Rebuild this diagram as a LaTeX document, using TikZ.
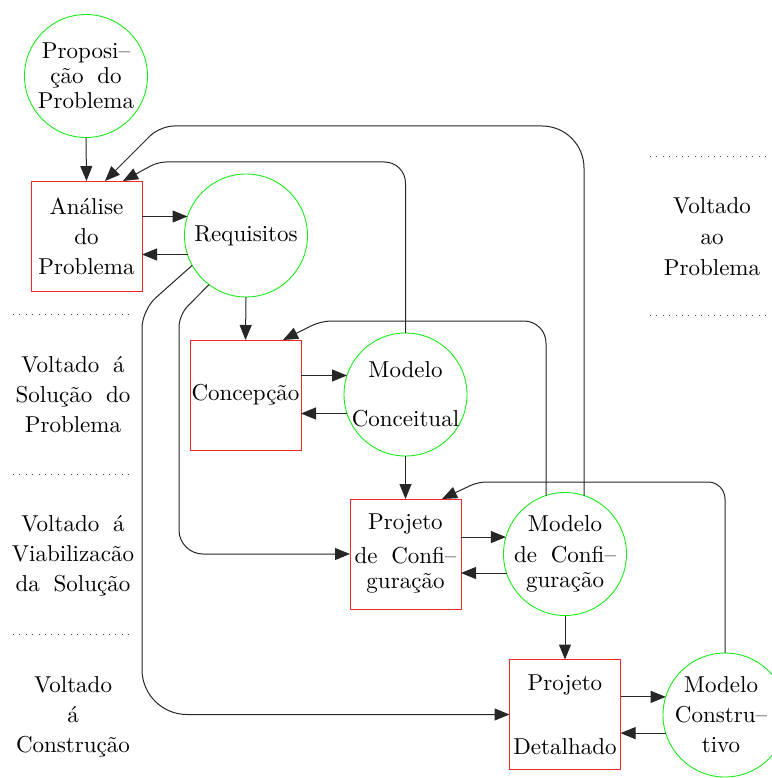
\documentclass[tikz,border=0pt]{standalone}
\usepackage{fontspec}
\setmainfont{lmroman10-regular.otf}
\usetikzlibrary{arrows.meta,calc}
\definecolor{boxred}{RGB}{245,40,40}
\definecolor{ringgreen}{RGB}{25,235,25}
\newcommand{\wgap}{\hspace{0.6em}}
\begin{document}
\begin{tikzpicture}[x=1pt,y=-1pt,
  every node/.style={font=\fontsize{23}{30}\selectfont},
  ring/.style={circle, draw=ringgreen, line width=0.9pt, minimum size=123pt,
    inner sep=0pt, outer sep=0pt},
  stepbox/.style={rectangle, draw=boxred, line width=0.9pt, minimum width=111pt,
    minimum height=110pt, inner sep=0pt, outer sep=0pt, align=center},
  txt/.style={align=center, inner sep=0pt},
  flow/.style={draw=black!85, line width=1pt, -{Triangle[length=15pt,width=12pt]}},
  sep/.style={draw=black!75, line width=0.8pt, dash pattern=on 0.8pt off 5.6pt},
]
\useasboundingbox (0,0) rectangle (771,778);

% process steps (boxes) and models (rings)
\node[ring, label={[txt, font=\fontsize{23}{25}\selectfont]center:{Proposi--\\ção\wgap do\\Problema}}] (prop) at (86,76) {};
\node[stepbox] (ana) at (86.5,236) {Análise\\do\\Problema};
\node[ring, label={[txt]center:Requisitos}] (req) at (246,235.5) {};
\node[stepbox] (conc) at (245.5,395) {Concepção};
\node[ring, label={[txt]center:{Modelo\\[19pt]Conceitual}}] (mc) at (405.5,394.5) {};
\node[stepbox] (pc) at (405.5,554) {Projeto\\[4pt]de\wgap Confi--\\[-5pt]guração};
\node[ring, label={[txt]center:{Modelo\\[1pt]de\wgap Confi--\\[-5pt]guração}}] (mconf) at (565,554) {};
\node[stepbox] (pd) at (565,714.5) {Projeto\\[34pt]Detalhado};
\node[ring, minimum size=124pt, label={[txt, xshift=-4pt]center:{Modelo\\Constru--\\tivo}}] (mcons) at (725,715) {};

% phase labels
\node[txt, font=\fontsize{23}{31}\selectfont] (sideA) at (712,237) {Voltado\\ao\\Problema};
\node[txt] (sideB) at (73,395) {Voltado\wgap á\\Solução\wgap do\\Problema};
\node[txt] (sideC) at (73,556) {Voltado\wgap á\\Viabilizacão\\da\wgap Solução};
\node[txt] (sideD) at (73,717) {Voltado\\á\\Construção};

% phase separators
\draw[sep] (13,314) -- (130,314);
\draw[sep] (13,474) -- (130,474);
\draw[sep] (13,634) -- (130,634);
\draw[sep] (650,156) -- (771,156);
\draw[sep] (650,315) -- (771,315);

% bend points of the feedback lines
\coordinate (bendA) at (158,162);
\coordinate (bendB) at (160,126);
\coordinate (bendC) at (321,321);
\coordinate (bendD) at (478,482);
\coordinate (bendE) at (179,315);
\coordinate (bendF) at (142,310);

% forward flow
\draw[flow] (prop.south) -- (ana.north);
\draw[flow] (ana.east |- req.162) -- (req.162);
\draw[flow] (req.198) -- (ana.east |- req.198);
\draw[flow] (req.south) -- (conc.north);
\draw[flow] (conc.east |- mc.162) -- (mc.162);
\draw[flow] (mc.198) -- (conc.east |- mc.198);
\draw[flow] (mc.south) -- (pc.north);
\draw[flow] (pc.east |- mconf.164) -- (mconf.164);
\draw[flow] (mconf.198) -- (pc.east |- mconf.198);
\draw[flow] (mconf.south) -- (pd.north);
\draw[flow] (pd.east |- mcons.163) -- (mcons.163);
\draw[flow] (mcons.197) -- (pd.east |- mcons.197);

% feedback lines (a corner takes the radius set before the segment reaching it)
\draw[flow] (mc.north) [rounded corners=21pt] -- (mc.north |- bendA)
  [rounded corners=8pt] -- (bendA) -- ([xshift=-19pt]ana.north east);
\draw[flow] (mconf.72) [rounded corners=42pt] -- (mconf.72 |- bendB)
  [rounded corners=14pt] -- (bendB) -- ([xshift=-37pt]ana.north east);
\draw[flow] (mconf.108) [rounded corners=22pt] -- (mconf.108 |- bendC)
  [rounded corners=10pt] -- (bendC) -- ([xshift=-18pt]conc.north east);
\draw[flow] (mcons.north) [rounded corners=17pt] -- (mcons.north |- bendD)
  [rounded corners=8pt] -- (bendD) -- ([xshift=-19pt]pc.north east);
\draw[flow] (req.233) [rounded corners=12pt] -- (bendE)
  [rounded corners=24pt] -- (bendE |- pc.west) -- (pc.west);
\draw[flow] (req.209) [rounded corners=18pt] -- (bendF)
  [rounded corners=45pt] -- (bendF |- pd.west) -- (pd.west);
\end{tikzpicture}
\end{document}
